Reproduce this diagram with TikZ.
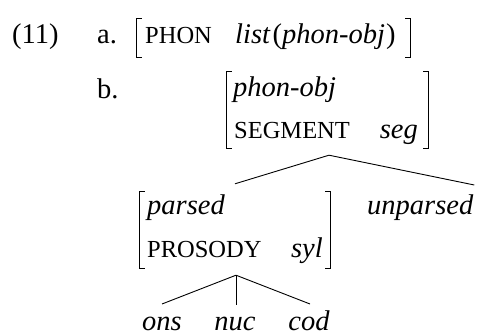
\documentclass[tikz,border=0pt]{standalone}
\usepackage{fontspec}
\setmainfont{Liberation Serif}
\usetikzlibrary{calc}
\newcommand\fsc[1]{{\fontsize{24.5}{29}\selectfont #1}}
\newcommand\avmbrackets[1]{%
  \draw[brk] ([xshift=5pt]#1.north west) -- (#1.north west) -- (#1.south west) -- ([xshift=5pt]#1.south west);
  \draw[brk] ([xshift=-5pt]#1.north east) -- (#1.north east) -- (#1.south east) -- ([xshift=-5pt]#1.south east);}
\begin{document}
\begin{tikzpicture}[x=1pt,y=-1pt,
  font=\fontsize{28.5}{33}\selectfont,
  txt/.style={anchor=base west, inner sep=0pt},
  txtr/.style={anchor=base east, inner sep=0pt},
  txtc/.style={anchor=base, inner sep=0pt},
  avm/.style={draw=none, inner sep=0pt},
  brk/.style={line width=1.2pt},
  branch/.style={line width=0.9pt}]
\useasboundingbox (0,0) rectangle (477,336);
% (11) a.
\node[txt] (num) at (12,44) {(11)};
\node[txt] (la) at (97,44) {a.};
\node[avm, minimum width=273pt, minimum height=38pt] (AVMa) at (273.5,38) {};
\avmbrackets{AVMa}
\node[txt] (phon) at (145,44) {\fsc{PHON}};
\node[txt] (listv) at (235,44) {\textit{list}\kern2pt(\textit{phon-obj}\kern1pt)};
% b.
\node[txt] (lb) at (97,99) {b.};
\node[avm, minimum width=201pt, minimum height=76pt] (AVMb) at (327.5,110) {};
\avmbrackets{AVMb}
\node[txt] (phonobj) at (233,97) {\textit{phon-obj}};
\node[txt] (segment) at (234,139) {\fsc{SEGMENT}};
\node[txtr] (seg) at (418,139) {\textit{seg}};
% parsed
\node[avm, minimum width=190pt, minimum height=76pt] (AVMp) at (235,230) {};
\avmbrackets{AVMp}
\node[txt] (parsed) at (147,215) {\textit{parsed}};
\node[txt] (prosody) at (147,258) {\fsc{PROSODY}};
\node[txtr] (syl) at (323,258) {\textit{syl}};
\node[txt] (unparsed) at (367,215) {\textit{unparsed}};
% leaves
\node[txtc] (ons) at (162,331) {\textit{ons}};
\node[txtc] (nuc) at (235,331) {\textit{nuc}};
\node[txtc] (cod) at (309,331) {\textit{cod}};
% tree coordinates
\coordinate (Bfoot) at ($(AVMb.south)+(1.5,7)$);
\coordinate (Ptop) at ($(AVMp.north)+(0,-8)$);
\coordinate (Utop) at ($(unparsed.base)+(54,-30)$);
\coordinate (Pfoot) at ($(AVMp.south)+(1,7)$);
\coordinate (Otop) at ($(ons.base)+(0,-27)$);
\coordinate (Ntop) at ($(nuc.base)+(1,-26)$);
\coordinate (Ctop) at ($(cod.base)+(1,-27)$);
\draw[branch] (Bfoot) -- (Ptop);
\draw[branch] (Bfoot) -- (Utop);
\draw[branch] (Pfoot) -- (Otop);
\draw[branch] (Pfoot) -- (Ntop);
\draw[branch] (Pfoot) -- (Ctop);
\end{tikzpicture}
\end{document}
